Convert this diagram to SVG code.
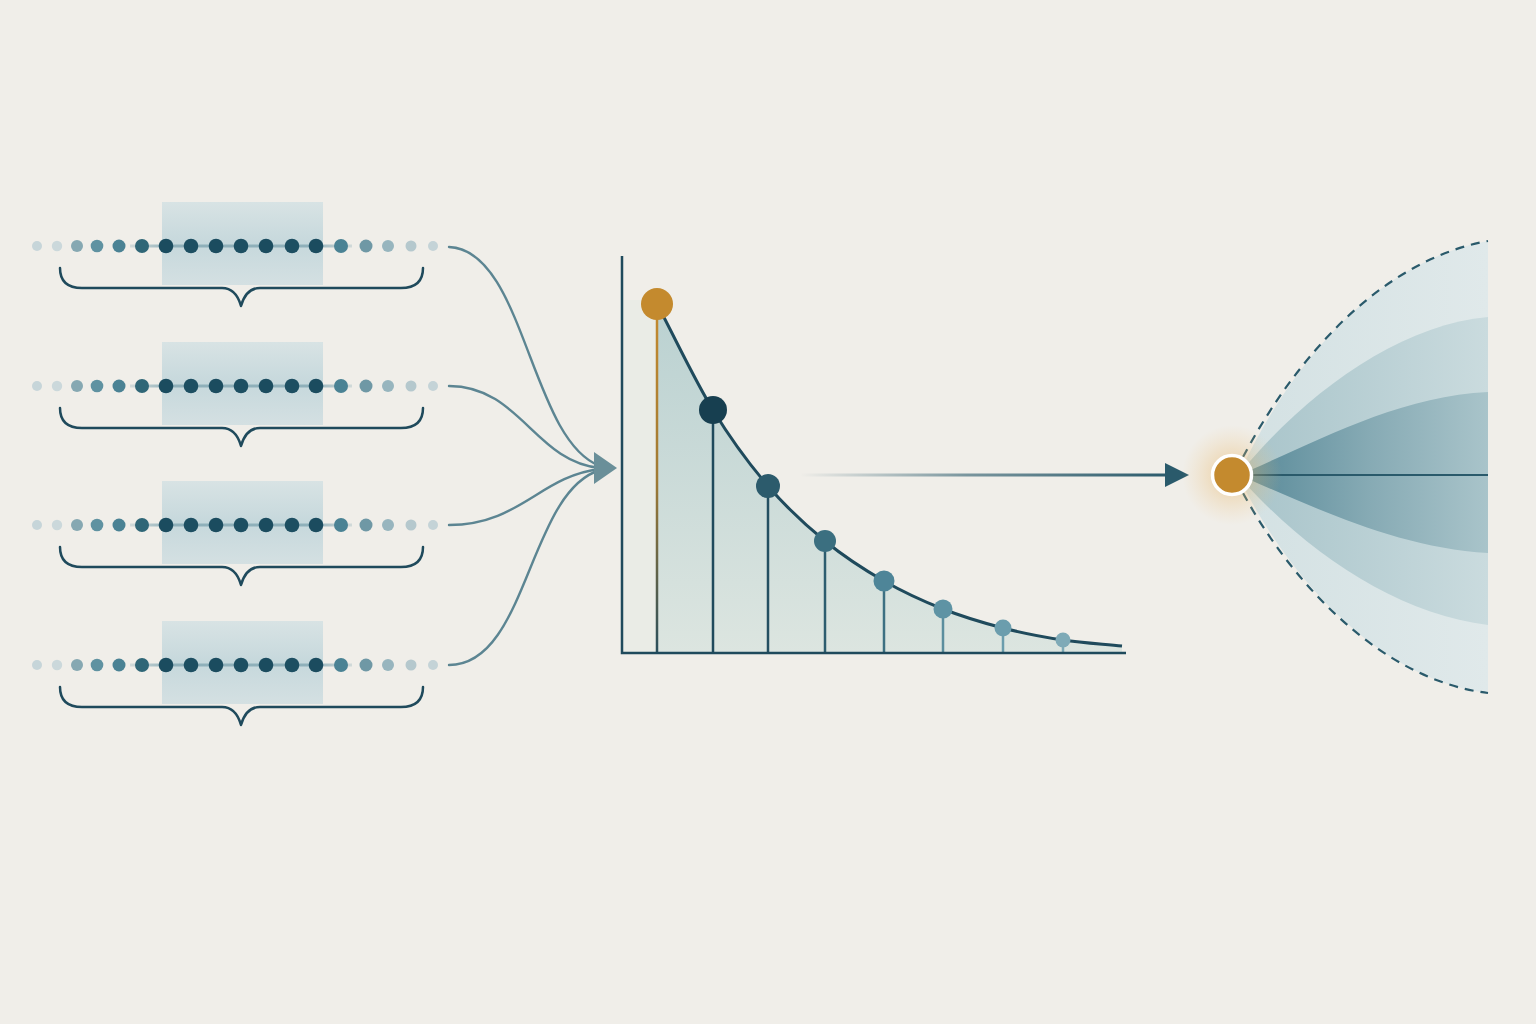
<svg xmlns="http://www.w3.org/2000/svg" xmlns:xlink="http://www.w3.org/1999/xlink" width="1536" height="1024" viewBox="0 0 1536 1024">
<style>
.brace{fill:none;stroke:#1f4a5c;stroke-width:2.5;stroke-linecap:round;stroke-linejoin:round}
.conn{fill:none;stroke:#5c8592;stroke-width:2.4;stroke-linecap:round}
.axis{fill:none;stroke:#1f4a5c;stroke-width:2.5}
.stem{stroke-width:2.5}
.dash{fill:none;stroke:#2a5a6b;stroke-width:2.2;stroke-dasharray:9 7}
.hl{fill:url(#hlGrad)}
</style>
<defs>
<linearGradient id="hlGrad" x1="0" y1="0" x2="0" y2="1">
<stop offset="0" stop-color="#d8e3e4"/>
<stop offset="0.5" stop-color="#c6d8dc"/>
<stop offset="1" stop-color="#d4e0e2"/>
</linearGradient>
<linearGradient id="rowLine" x1="130" y1="0" x2="352" y2="0" gradientUnits="userSpaceOnUse">
<stop offset="0" stop-color="#8aabb5" stop-opacity="0.3"/>
<stop offset="0.2" stop-color="#8fb0ba"/>
<stop offset="0.8" stop-color="#8fb0ba"/>
<stop offset="1" stop-color="#8aabb5" stop-opacity="0.3"/>
</linearGradient>
<g id="dots">
<line x1="130" y1="0" x2="352" y2="0" stroke="url(#rowLine)" stroke-width="3"/>
<circle cx="37" cy="0" r="5" fill="#c6d5d9"/>
<circle cx="57" cy="0" r="5.2" fill="#cbd8db"/>
<circle cx="77" cy="0" r="6" fill="#86a8b2"/>
<circle cx="97" cy="0" r="6.3" fill="#5f92a1"/>
<circle cx="119" cy="0" r="6.5" fill="#4a8294"/>
<circle cx="142" cy="0" r="7" fill="#2f6677"/>
<circle cx="166" cy="0" r="7.3" fill="#1b4c5f"/>
<circle cx="191" cy="0" r="7.3" fill="#1d4f62"/>
<circle cx="216" cy="0" r="7.3" fill="#1b4c5f"/>
<circle cx="241" cy="0" r="7.3" fill="#1d4f62"/>
<circle cx="266" cy="0" r="7.3" fill="#1b4c5f"/>
<circle cx="292" cy="0" r="7.3" fill="#1d4f62"/>
<circle cx="316" cy="0" r="7.3" fill="#1b4c5f"/>
<circle cx="341" cy="0" r="7" fill="#4a8294"/>
<circle cx="366" cy="0" r="6.5" fill="#6f98a5"/>
<circle cx="388" cy="0" r="6" fill="#97b5be"/>
<circle cx="411" cy="0" r="5.5" fill="#b5c8cd"/>
<circle cx="433" cy="0" r="5" fill="#c4d3d7"/>
</g>
<path id="brace" d="M60,-22 Q60,-2 82,-2 L222,-2 Q236,-2 241,16 Q246,-2 260,-2 L401,-2 Q423,-2 423,-22"/>
<linearGradient id="areaGrad" x1="0" y1="304" x2="0" y2="653" gradientUnits="userSpaceOnUse">
<stop offset="0" stop-color="#bad1d1"/>
<stop offset="1" stop-color="#dce5e0"/>
</linearGradient>
<linearGradient id="goldStem" x1="0" y1="304" x2="0" y2="653" gradientUnits="userSpaceOnUse">
<stop offset="0" stop-color="#c48a2e"/>
<stop offset="0.5" stop-color="#a07a34"/>
<stop offset="1" stop-color="#2a4f5c"/>
</linearGradient>
<linearGradient id="hArrow" x1="800" y1="0" x2="1170" y2="0" gradientUnits="userSpaceOnUse">
<stop offset="0" stop-color="#2a5a6b" stop-opacity="0"/>
<stop offset="0.45" stop-color="#2a5a6b" stop-opacity="0.6"/>
<stop offset="1" stop-color="#2a5a6b"/>
</linearGradient>
<radialGradient id="glow" cx="1232" cy="475" r="50" gradientUnits="userSpaceOnUse">
<stop offset="0" stop-color="#e4a94c" stop-opacity="0.7"/>
<stop offset="0.45" stop-color="#eab86a" stop-opacity="0.3"/>
<stop offset="1" stop-color="#f0c98a" stop-opacity="0"/>
</radialGradient>
<linearGradient id="fan1" x1="1240" y1="0" x2="1488" y2="0" gradientUnits="userSpaceOnUse">
<stop offset="0" stop-color="#d3e1e3"/>
<stop offset="1" stop-color="#e0e9ea"/>
</linearGradient>
<linearGradient id="fan2" x1="1244" y1="0" x2="1488" y2="0" gradientUnits="userSpaceOnUse">
<stop offset="0" stop-color="#a8c4ca"/>
<stop offset="1" stop-color="#cadbde"/>
</linearGradient>
<linearGradient id="fan3" x1="1248" y1="0" x2="1488" y2="0" gradientUnits="userSpaceOnUse">
<stop offset="0" stop-color="#5a8b9a"/>
<stop offset="0.5" stop-color="#86aab4"/>
<stop offset="1" stop-color="#a9c4ca"/>
</linearGradient>
</defs>

<rect x="0" y="0" width="1536" height="1024" fill="#f0eee9"/>

<g id="row1">
<rect class="hl" x="162" y="202" width="161" height="83"/>
<use href="#dots" x="0" y="246"/>
<use href="#brace" x="0" y="290" class="brace"/>
</g>
<g id="row2">
<rect class="hl" x="162" y="342" width="161" height="83"/>
<use href="#dots" x="0" y="386"/>
<use href="#brace" x="0" y="430" class="brace"/>
</g>
<g id="row3">
<rect class="hl" x="162" y="481" width="161" height="83"/>
<use href="#dots" x="0" y="525"/>
<use href="#brace" x="0" y="569" class="brace"/>
</g>
<g id="row4">
<rect class="hl" x="162" y="621" width="161" height="83"/>
<use href="#dots" x="0" y="665"/>
<use href="#brace" x="0" y="709" class="brace"/>
</g>

<g id="connectors">
<path class="conn" d="M449,247 C525,250 530,440 600,466"/>
<path class="conn" d="M449,386 C520,386 535,462 600,468"/>
<path class="conn" d="M449,525 C520,525 540,476 600,469"/>
<path class="conn" d="M449,665 C528,665 528,492 600,470"/>
<polygon points="594,452 617,468 594,484" fill="#6a8f99"/>
<line x1="800" y1="475" x2="1170" y2="475" stroke="url(#hArrow)" stroke-width="3"/>
<polygon points="1165,463 1189,475 1165,487" fill="#2a5a6b"/>
</g>

<g id="chart">
<path d="M657,304 C675.7,339.3 694.5,379.7 713,410 C731.5,440.3 749.3,464.2 768,486 C786.7,507.8 805.7,525.2 825,541 C844.3,556.8 864.3,569.7 884,581 C903.7,592.3 923.2,601.2 943,609 C962.8,616.8 983,622.8 1003,628 C1023,633.2 1043.2,637 1063,640 C1082.8,643 1102.3,644 1122,646 L1122,653 L657,653 Z" fill="url(#areaGrad)"/>
<rect x="623" y="300" width="34" height="353" fill="#e4e9e3" opacity="0.5"/>
<line class="stem" x1="657" y1="304" x2="657" y2="653" stroke="url(#goldStem)"/>
<line class="stem" x1="713" y1="410" x2="713" y2="653" stroke="#1f4a5c"/>
<line class="stem" x1="768" y1="486" x2="768" y2="653" stroke="#244f61"/>
<line class="stem" x1="825" y1="541" x2="825" y2="653" stroke="#2d5d6f"/>
<line class="stem" x1="884" y1="581" x2="884" y2="653" stroke="#3d7082"/>
<line class="stem" x1="943" y1="609" x2="943" y2="653" stroke="#5b8e9e"/>
<line class="stem" x1="1003" y1="628" x2="1003" y2="653" stroke="#6b9dad"/>
<line class="stem" x1="1063" y1="640" x2="1063" y2="653" stroke="#7eaab7"/>
<path d="M657,304 C675.7,339.3 694.5,379.7 713,410 C731.5,440.3 749.3,464.2 768,486 C786.7,507.8 805.7,525.2 825,541 C844.3,556.8 864.3,569.7 884,581 C903.7,592.3 923.2,601.2 943,609 C962.8,616.8 983,622.8 1003,628 C1023,633.2 1043.2,637 1063,640 C1082.8,643 1102.3,644 1122,646" fill="none" stroke="#1f4a5c" stroke-width="3"/>
<path class="axis" d="M622,256 L622,653 L1126,653"/>
<circle cx="657" cy="304" r="16" fill="#c48a2e"/>
<circle cx="713" cy="410" r="14" fill="#173f50"/>
<circle cx="768" cy="486" r="12" fill="#2c5b6c"/>
<circle cx="825" cy="541" r="11" fill="#3b6f80"/>
<circle cx="884" cy="581" r="10.5" fill="#4e8598"/>
<circle cx="943" cy="609" r="9.5" fill="#5e93a4"/>
<circle cx="1003" cy="628" r="8.5" fill="#6b9dad"/>
<circle cx="1063" cy="640" r="7.5" fill="#7eaab7"/>
</g>

<g id="fan">
<path d="M1240,472 C1285,375 1370,262 1488,241 L1488,693 C1380,680 1290,580 1240,480 Z" fill="url(#fan1)"/>
<path d="M1244,468 C1310,390 1400,325 1488,317 L1488,625 C1400,615 1310,555 1244,482 Z" fill="url(#fan2)"/>
<path d="M1248,471 C1320,440 1400,396 1488,392 L1488,553 C1400,548 1320,510 1248,479 Z" fill="url(#fan3)"/>
<line x1="1250" y1="475" x2="1488" y2="475" stroke="#2a5a6b" stroke-width="2"/>
<path class="dash" d="M1243,457 C1288,372 1372,262 1488,241"/>
<path class="dash" d="M1243,493 C1290,580 1380,680 1488,693"/>
</g>

<g id="output-node">
<circle cx="1232" cy="475" r="50" fill="url(#glow)"/>
<circle cx="1232" cy="475" r="19.5" fill="#c48a2e" stroke="#ffffff" stroke-width="3.5"/>
</g>
</svg>
